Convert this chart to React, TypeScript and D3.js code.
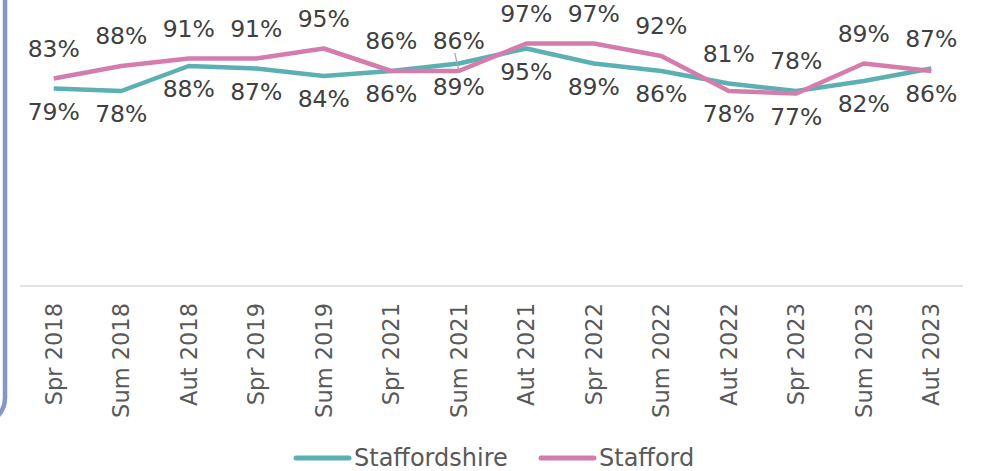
import React, { useEffect, useRef } from 'react'
import * as d3 from 'd3'

const categories = [
  'Spr 2018', 'Sum 2018', 'Aut 2018', 'Spr 2019', 'Sum 2019', 'Spr 2021', 'Sum 2021',
  'Aut 2021', 'Spr 2022', 'Sum 2022', 'Aut 2022', 'Spr 2023', 'Sum 2023', 'Aut 2023',
]
const staffordshire = [79, 78, 88, 87, 84, 86, 89, 95, 89, 86, 81, 78, 82, 87]
const stafford = [83, 88, 91, 91, 95, 86, 86, 97, 97, 92, 78, 77, 89, 86]
// which side the Stafford label sits on (Staffordshire takes the other side)
const staffordLabelSide = [
  'above', 'above', 'above', 'above', 'above', 'above', 'above',
  'above', 'above', 'above', 'below', 'below', 'above', 'below',
]
const seriesNames = ['Staffordshire', 'Stafford']

const W = 982
const H = 471
const TEAL = '#5BB0B3'
const PINK = '#D47DAD'
const FONT = 'DejaVu Sans, Verdana, sans-serif'

const App = () => {
  const svgRef = useRef<SVGSVGElement>(null)

  useEffect(() => {
    const svg = d3.select(svgRef.current)
    svg.selectAll('*').remove()

    const x = d3.scaleBand().domain(categories).range([20, 965])
    const y = d3.scaleLinear().domain([0, 100]).range([286, 36])
    const cx = (c: string) => (x(c) as number) + x.bandwidth() / 2

    // left border of the surrounding panel
    svg.append('path')
      .attr('d', 'M5,-10 V398 A26,26 0 0 1 -21,424')
      .attr('fill', 'none')
      .attr('stroke', '#8497C9')
      .attr('stroke-width', 4.5)

    // category axis line
    svg.append('line')
      .attr('x1', 20).attr('x2', 963)
      .attr('y1', y(0)).attr('y2', y(0))
      .attr('stroke', '#D9D9D9')
      .attr('stroke-width', 1.5)

    // tick labels
    svg.append('g').selectAll('text')
      .data(categories)
      .join('text')
      .attr('transform', d => `translate(${cx(d) + 8},303) rotate(-90)`)
      .attr('text-anchor', 'end')
      .attr('font-family', FONT)
      .attr('font-size', 22.5)
      .attr('fill', '#595959')
      .text(d => d)

    const line = d3.line<number>()
      .x((_, i) => cx(categories[i]))
      .y(d => y(d))

    const series = [
      { name: seriesNames[0], values: staffordshire, color: TEAL },
      { name: seriesNames[1], values: stafford, color: PINK },
    ]

    series.forEach(s => {
      svg.append('path')
        .attr('d', line(s.values) as string)
        .attr('fill', 'none')
        .attr('stroke', s.color)
        .attr('stroke-width', 4.5)
        .attr('stroke-linejoin', 'round')
    })

    // data labels
    const labels: { x: number; y: number; v: number; side: string }[] = []
    categories.forEach((c, i) => {
      const pSide = staffordLabelSide[i]
      const tSide = pSide === 'above' ? 'below' : 'above'
      labels.push({ x: cx(c), y: y(staffordshire[i]), v: staffordshire[i], side: tSide })
      labels.push({ x: cx(c), y: y(stafford[i]), v: stafford[i], side: pSide })
    })

    svg.append('g').selectAll('text')
      .data(labels)
      .join('text')
      .attr('x', d => d.x)
      .attr('y', d => (d.side === 'above' ? d.y - 22 : d.y + 31))
      .attr('text-anchor', 'middle')
      .attr('font-family', FONT)
      .attr('font-size', 23.5)
      .attr('fill', '#404040')
      .text(d => d.v + '%')

    // leader line where a Stafford label sits above a higher Staffordshire point
    categories.forEach((c, i) => {
      if (staffordLabelSide[i] === 'above' && stafford[i] < staffordshire[i]) {
        const px = cx(c)
        const py = y(stafford[i])
        svg.append('line')
          .attr('x1', px - 4).attr('y1', py - 18)
          .attr('x2', px).attr('y2', py - 1)
          .attr('stroke', '#A6A6A6')
          .attr('stroke-width', 1.2)
      }
    })

    // legend
    const legend = svg.append('g')
    const legendItems = [
      { name: seriesNames[0], color: TEAL, x0: 296 },
      { name: seriesNames[1], color: PINK, x0: 541 },
    ]
    legendItems.forEach(l => {
      legend.append('line')
        .attr('x1', l.x0).attr('x2', l.x0 + 53)
        .attr('y1', 458).attr('y2', 458)
        .attr('stroke', l.color)
        .attr('stroke-width', 5)
        .attr('stroke-linecap', 'round')
      legend.append('text')
        .attr('x', l.x0 + 58)
        .attr('y', 466)
        .attr('font-family', FONT)
        .attr('font-size', 24)
        .attr('fill', '#595959')
        .text(l.name)
    })
  }, [])

  return (
    <svg
      ref={svgRef}
      width={W}
      height={H}
      viewBox={`0 0 ${W} ${H}`}
      style={{ position: 'absolute', left: 0, top: 0, background: '#fff' }}
    />
  )
}

export default App
